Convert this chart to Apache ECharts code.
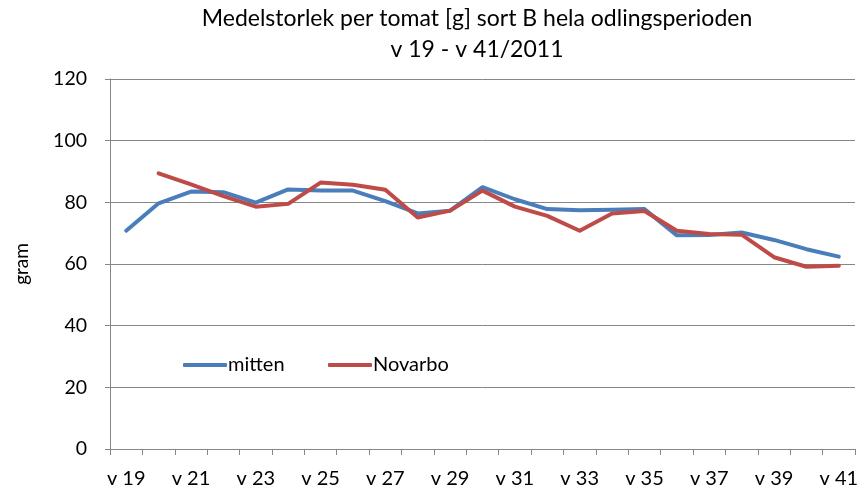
<!DOCTYPE html>
<html>
<head>
<meta charset="utf-8">
<script src="https://cdn.jsdelivr.net/npm/echarts@6/dist/echarts.min.js"></script>
<style>
  html, body { margin: 0; padding: 0; background: #fff; }
  #chart { width: 862px; height: 490px; }
</style>
</head>
<body>
<div id="chart"></div>
<script>
// Weeks of the growing season
const weeks = ['v 19','v 20','v 21','v 22','v 23','v 24','v 25','v 26','v 27','v 28','v 29','v 30',
               'v 31','v 32','v 33','v 34','v 35','v 36','v 37','v 38','v 39','v 40','v 41'];

// Average tomato weight in grams per week
const mitten = [70.8, 79.7, 83.5, 83.3, 79.9, 84.2, 83.8, 83.8, 80.4, 76.4, 77.3, 84.9,
                81.0, 77.8, 77.4, 77.6, 77.8, 69.3, 69.4, 70.2, 67.8, 64.8, 62.4];
const novarbo = [null, 89.4, 85.8, 82.0, 78.6, 79.5, 86.4, 85.7, 84.1, 75.1, 77.3, 83.8,
                 78.6, 75.6, 70.8, 76.4, 77.2, 70.8, 69.7, 69.5, 62.2, 59.1, 59.4];

const titleLines = ['Medelstorlek per tomat [g] sort B hela odlingsperioden', 'v 19 - v 41/2011'];
const yTicks = { min: 0, max: 120, step: 20 };

const FONT = 'Lato, "Open Sans", sans-serif';
const BLUE = '#4A7EBB';
const RED = '#BE4B48';
const GRID = '#868686';

// Each title line is centred on the same horizontal point
const titleCenterX = 477;
const titles = titleLines.map((line, i) => ({
  text: line,
  left: titleCenterX,
  textAlign: 'center',
  top: 3 + i * 31,
  padding: 0,
  textStyle: { fontFamily: FONT, fontSize: 23, fontWeight: 'normal', color: '#000', lineHeight: 31 }
}));

const chart = echarts.init(document.getElementById('chart'), null, { renderer: 'canvas' });
chart.setOption({
  backgroundColor: '#fff',
  animation: false,
  textStyle: { fontFamily: FONT },
  title: titles,
  legend: [
    {
      data: ['mitten'],
      left: 178, top: 350,
      icon: 'roundRect', itemWidth: 44, itemHeight: 4, itemGap: 0,
      textStyle: { fontFamily: FONT, fontSize: 20, color: '#000', padding: [0, 0, 0, -4] }
    },
    {
      data: ['Novarbo'],
      left: 323, top: 350,
      icon: 'roundRect', itemWidth: 44, itemHeight: 4, itemGap: 0,
      textStyle: { fontFamily: FONT, fontSize: 20, color: '#000', padding: [0, 0, 0, -4] }
    }
  ],
  grid: { left: 110, right: 7, top: 79, bottom: 41, containLabel: false },
  xAxis: {
    type: 'category',
    data: weeks,
    boundaryGap: true,
    axisLine: { lineStyle: { color: GRID, width: 1 } },
    axisTick: { show: true, interval: 0, length: 6, lineStyle: { color: GRID } },
    axisLabel: { interval: 1, color: '#000', fontSize: 20, fontFamily: FONT, margin: 20 },
    splitLine: { show: false }
  },
  yAxis: {
    type: 'value',
    min: yTicks.min, max: yTicks.max, interval: yTicks.step,
    name: 'gram',
    nameLocation: 'middle',
    nameGap: 79,
    nameRotate: 90,
    nameTextStyle: { fontFamily: FONT, fontSize: 19, color: '#000' },
    axisLine: { show: true, lineStyle: { color: GRID, width: 1 } },
    axisTick: { show: true, length: 5, lineStyle: { color: GRID } },
    axisLabel: { color: '#000', fontSize: 19.5, fontFamily: FONT, margin: 23 },
    splitLine: { show: true, lineStyle: { color: GRID, width: 1 } }
  },
  series: [
    {
      name: 'mitten', type: 'line', data: mitten,
      symbol: 'none', smooth: false,
      lineStyle: { color: BLUE, width: 4, cap: 'round', join: 'round' },
      itemStyle: { color: BLUE }
    },
    {
      name: 'Novarbo', type: 'line', data: novarbo,
      symbol: 'none', smooth: false, connectNulls: false,
      lineStyle: { color: RED, width: 4, cap: 'round', join: 'round' },
      itemStyle: { color: RED }
    }
  ]
});
</script>
</body>
</html>
